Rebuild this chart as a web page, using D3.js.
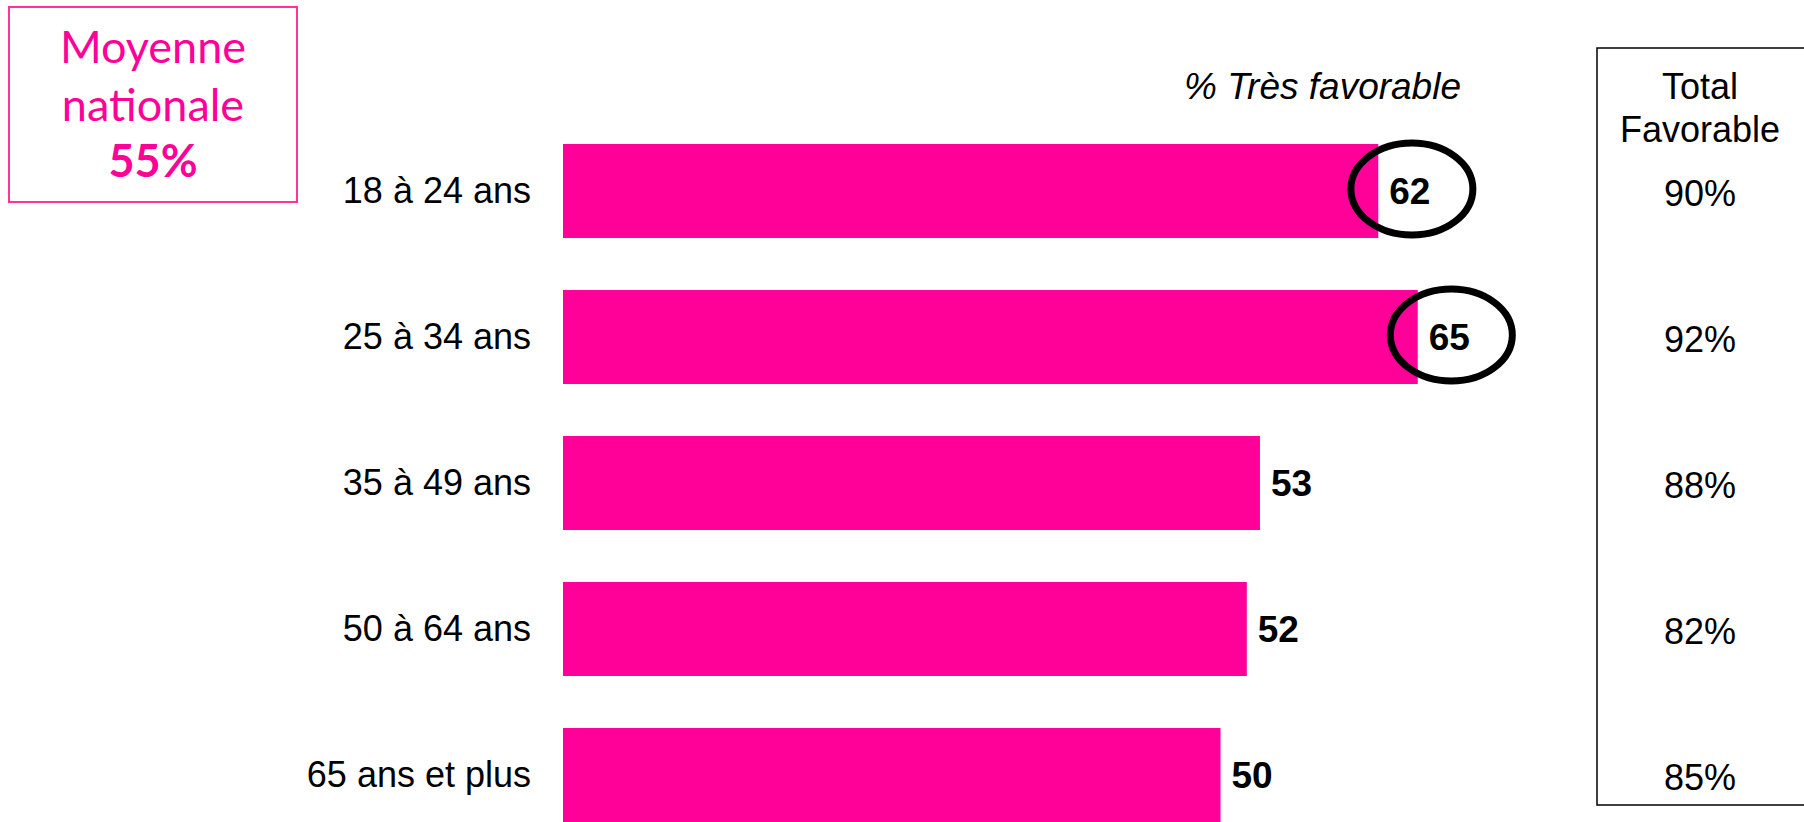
<!DOCTYPE html>
<html>
<head>
<meta charset="utf-8">
<script src="https://cdn.jsdelivr.net/npm/d3@7"></script>
<style>
  body { margin: 0; background: #fff; }
  svg { display: block; }
</style>
</head>
<body>
<svg id="chart"></svg>
<script>
// data
const categories = ["18 à 24 ans", "25 à 34 ans", "35 à 49 ans", "50 à 64 ans", "65 ans et plus"];
const tresFavorable = [62, 65, 53, 52, 50];
const totalFavorable = ["90%", "92%", "88%", "82%", "85%"];
const circled = ["18 à 24 ans", "25 à 34 ans"];
const moyenneLines = ["Moyenne", "nationale"];
const moyenneValue = "55%";

const W = 1804, H = 822;
const pink = "#FF0099";

const svg = d3.select("#chart").attr("width", W).attr("height", H);

// scales
const y = d3.scaleBand()
  .domain(categories)
  .range([118, 848])
  .paddingInner(0.356)
  .paddingOuter(0.178);

const x = d3.scaleLinear()
  .domain([0, 65])
  .range([563, 563 + 65 * 13.15]);

const rows = categories.map((c, i) => ({cat: c, v: tresFavorable[i], tot: totalFavorable[i]}));

// bars
svg.append("g").selectAll("rect")
  .data(rows)
  .join("rect")
  .attr("x", x(0))
  .attr("y", d => y(d.cat))
  .attr("width", d => x(d.v) - x(0))
  .attr("height", y.bandwidth())
  .attr("fill", pink);

// category labels (axis without lines)
const yAxis = svg.append("g")
  .attr("transform", `translate(${x(0)},0)`)
  .call(d3.axisLeft(y).tickSize(0).tickPadding(32));
yAxis.select(".domain").remove();
yAxis.selectAll("text")
  .style("font", "36px 'Liberation Sans', Arial, sans-serif")
  .attr("fill", "#000");

// value labels
const vals = svg.append("g").selectAll("text")
  .data(rows)
  .join("text")
  .attr("x", d => x(d.v) + 11)
  .attr("y", d => y(d.cat) + y.bandwidth() / 2)
  .attr("dy", "0.36em")
  .style("font", "bold 37px 'Liberation Sans', Arial, sans-serif")
  .attr("fill", "#000")
  .text(d => d.v);

// ellipses around the highlighted values
vals.each(function(d) {
  if (!circled.includes(d.cat)) return;
  const b = this.getBBox();
  svg.append("ellipse")
    .attr("cx", b.x + b.width / 2 + 2)
    .attr("cy", y(d.cat) + y.bandwidth() / 2 - 2)
    .attr("rx", 61)
    .attr("ry", 46)
    .attr("fill", "none")
    .attr("stroke", "#000")
    .attr("stroke-width", 7);
});

// column title
svg.append("text")
  .attr("x", 1461)
  .attr("y", 86)
  .attr("dy", "0.35em")
  .attr("text-anchor", "end")
  .style("font", "italic 37px 'Liberation Sans', Arial, sans-serif")
  .text("% Très favorable");

// total favorable box
svg.append("rect")
  .attr("x", 1597)
  .attr("y", 48)
  .attr("width", 260)
  .attr("height", 757)
  .attr("fill", "none")
  .attr("stroke", "#000")
  .attr("stroke-width", 1.5);

svg.append("text")
  .attr("x", 1700)
  .attr("text-anchor", "middle")
  .style("font", "36px 'Liberation Sans', Arial, sans-serif")
  .selectAll("tspan")
  .data(["Total", "Favorable"])
  .join("tspan")
  .attr("x", 1700)
  .attr("y", (d, i) => 86 + i * 43)
  .attr("dy", "0.35em")
  .text(d => d);

svg.append("g").selectAll("text")
  .data(rows)
  .join("text")
  .attr("x", 1700)
  .attr("y", d => y(d.cat) + y.bandwidth() / 2 + 2)
  .attr("dy", "0.35em")
  .attr("text-anchor", "middle")
  .style("font", "36px 'Liberation Sans', Arial, sans-serif")
  .text(d => d.tot);

// moyenne nationale box
svg.append("rect")
  .attr("x", 9)
  .attr("y", 7)
  .attr("width", 288)
  .attr("height", 195)
  .attr("fill", "none")
  .attr("stroke", "#FF3399")
  .attr("stroke-width", 2);

const mt = svg.append("text")
  .attr("text-anchor", "middle")
  .attr("fill", pink);
mt.selectAll("tspan.l")
  .data(moyenneLines)
  .join("tspan")
  .attr("class", "l")
  .attr("x", 153)
  .attr("y", (d, i) => 63 + i * 58)
  .style("font", "45px Lato, 'Open Sans', sans-serif")
  .text(d => d);
mt.append("tspan")
  .attr("x", 153)
  .attr("y", 177)
  .style("font", "bold 45px Lato, 'Open Sans', sans-serif")
  .text(moyenneValue);
</script>
</body>
</html>
